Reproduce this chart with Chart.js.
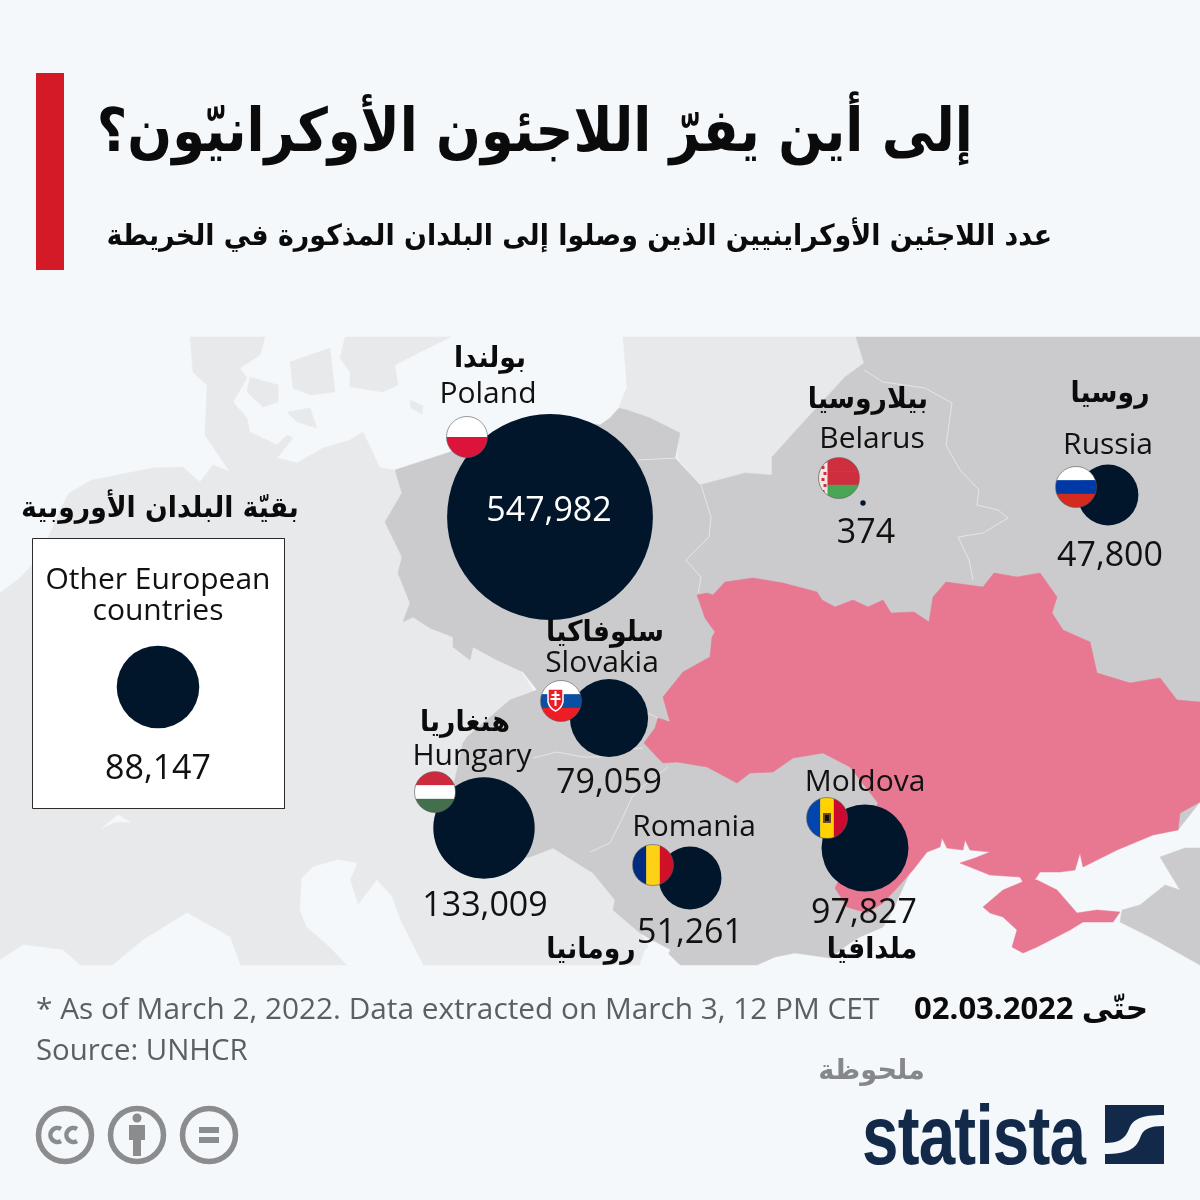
<!DOCTYPE html>
<html lang="ar">
<head>
<meta charset="utf-8">
<title>Ukraine refugees</title>
<script src="https://cdn.jsdelivr.net/npm/chart.js@4"></script>
<style>
    html, body { margin: 0; padding: 0; background: #f4f8fb; }
    #wrap { position: relative; width: 1200px; height: 1200px; overflow: hidden; }
    #chart { position: absolute; left: 0; top: 0; }
    .txt { position: absolute; white-space: nowrap; line-height: 1; }
    .ar { font-family: "DejaVu Sans", sans-serif; font-weight: 700; direction: rtl; color: #0b0b0b; transform-origin: 100% 0; }
    .en { font-family: "Open Sans", sans-serif; color: #5a5f64; font-size: 29.8px; }
    #bar { position: absolute; left: 36px; top: 73px; width: 28px; height: 197px; background: #d31a26; }
</style>
</head>
<body>
<div id="wrap">
    <canvas id="chart" width="1200" height="1200"></canvas>
    <div id="bar"></div>
    <div class="txt ar" style="right:227px;top:100px;font-size:60px;transform:scaleX(0.877);">إلى أين يفرّ اللاجئون الأوكرانيّون؟</div>
    <div class="txt ar" style="right:148px;top:221px;font-size:29px;transform:scaleX(0.927);">عدد اللاجئين الأوكراينيين الذين وصلوا إلى البلدان المذكورة في الخريطة</div>
    <div class="txt en" style="left:36px;top:993px;">* As of March 2, 2022. Data extracted on March 3, 12 PM CET</div>
    <div class="txt en" style="left:36px;top:1035px;font-size:29.4px;">Source: UNHCR</div>
    <div class="txt ar" style="right:52px;top:992px;font-size:31px;font-family:'Open Sans','DejaVu Sans',sans-serif;">حتّى 02.03.2022</div>
    <div class="txt ar" style="right:275px;top:1056px;font-size:28px;transform:scaleX(0.97);color:#85878a;">ملحوظة</div>
    <div class="txt" style="left:862px;top:1093px;font-family:'Liberation Sans',sans-serif;font-weight:700;font-size:84px;color:#12294a;transform-origin:0 0;transform:scaleX(0.78);letter-spacing:-1px;">statista</div>
    <svg style="position:absolute;left:1105px;top:1105px" width="59" height="59" viewBox="0 0 59 59">
        <rect width="59" height="59" fill="#12294a"/>
        <path d="M0 38 C14 38 20 34 24 24 C28 14 36 10 59 10 L59 21 C44 21 38 24 35 33 C31 44 22 49 0 49 Z" fill="#f4f8fb"/>
    </svg>
    <svg style="position:absolute;left:34px;top:1104px" width="210" height="62" viewBox="0 0 210 62" fill="none">
        <g stroke="#8a8c8e" stroke-width="5.5">
            <circle cx="31" cy="31" r="26.5"/><circle cx="103" cy="31" r="26.5"/><circle cx="175" cy="31" r="26.5"/>
        </g>
        <g stroke="#8a8c8e" stroke-width="4.5">
            <path d="M27 25 a7 7 0 1 0 0 12"/><path d="M43 25 a7 7 0 1 0 0 12"/>
        </g>
        <g fill="#8a8c8e">
            <circle cx="103" cy="14" r="4.5"/><path d="M95 21 h16 v15 h-4 v16 h-8 v-16 h-4 z"/>
            <rect x="165" y="23" width="20" height="6"/><rect x="165" y="33" width="20" height="6"/>
        </g>
    </svg>
</div>
<script>
const countries = ['Poland', 'Slovakia', 'Hungary', 'Romania', 'Moldova', 'Belarus', 'Russia', 'Other European'];
const countriesAr = ['بولندا', 'سلوفاكيا', 'هنغاريا', 'رومانيا', 'ملدافيا', 'بيلاروسيا', 'روسيا', 'بقيّة البلدان الأوروبية'];
const refugees = [547982, 79059, 133009, 51261, 97827, 374, 47800, 88147];

// where each country sits on the map, same 0-1200 units as the axes
const bubbleX = [550, 609, 484, 690, 865, 863, 1108, 158];
const bubbleY = [517, 718, 828, 878, 848, 503, 495, 687];
const flagX = [467, 561, 435, 653, 827, 839, 1076];
const flagY = [437, 701, 792, 865, 818, 478, 487];
const nameX = [488, 602, 472, 694, 865, 872, 1108, 158];
const nameY = [394, 663, 756, 827, 782, 439, 445, 580];
const nameArX = [490, 605, 465, 591, 872, 868, 1110, 160];
const nameArY = [359, 633, 723, 950, 950, 400, 394, 509];
const valueX = [549, 609, 485, 690, 864, 866, 1110, 158];
const valueY = [511, 783, 906, 933, 913, 533, 556, 769];

const flagStripes = [
    ['#ffffff', '#dc143c'],
    ['#ffffff', '#0b4ea2', '#ee1c25'],
    ['#cd2a3e', '#ffffff', '#436f4d'],
    ['#002b7f', '#fcd116', '#ce1126'],
    ['#0046ae', '#ffd200', '#cc092f'],
    ['#cf2e3e', '#cf2e3e', '#4aa657'],
    ['#ffffff', '#0039a6', '#d52b1e']
];
const flagVertical = [false, false, false, true, true, false, false];

const landBase = [[0,593],[20,578],[32,565],[45,545],[60,510],[69,493],[92,480],[153,468],[183,467],[200,482],[213,465],[230,472],[205,435],[207,385],[193,372],[190,337],[265,337],[260,355],[240,368],[247,378],[233,402],[247,418],[250,432],[277,445],[287,435],[293,438],[277,458],[297,463],[323,448],[350,440],[363,432],[380,468],[395,470],[420,520],[540,700],[620,900],[660,965],[0,965]];
const sweden = [[345,337],[451,337],[420,352],[395,365],[398,385],[383,392],[350,387],[350,372],[340,358]];
const zealand = [[290,362],[330,348],[335,392],[310,395],[293,388]];
const fyn = [[250,377],[278,385],[278,402],[263,407],[247,392]];
const lolland = [[287,412],[310,408],[317,428],[297,422]];
const gotland = [[410,400],[423,406],[422,414],[411,408]];
const baltics = [[623,337],[856,337],[864,363],[845,377],[799,427],[772,457],[772,475],[745,473],[700,485],[677,458],[680,433],[627,410],[619,407],[627,387]];
const neighbours = [[395,470],[447,453],[520,425],[570,420],[600,425],[610,418],[619,408],[627,410],[650,418],[680,433],[675,458],[700,485],[745,473],[772,475],[772,457],[799,427],[845,377],[864,363],[856,337],[1200,337],[1200,802],[1178,830],[1000,790],[920,850],[893,910],[883,927],[860,937],[850,943],[830,958],[795,953],[775,957],[757,965],[680,965],[670,955],[657,943],[640,933],[613,910],[615,900],[593,873],[577,863],[553,848],[530,857],[500,860],[450,800],[457,770],[463,743],[467,737],[510,700],[537,690],[523,672],[497,660],[473,647],[470,660],[453,647],[453,637],[430,628],[413,617],[403,622],[410,603],[398,573],[402,557],[385,522],[402,493]];
const kuban = [[1160,857],[1185,848],[1200,848],[1200,965],[1150,937],[1120,922],[1122,910],[1140,905],[1165,885],[1180,890]];
const ukraine = [[644,743],[655,728],[658,718],[670,722],[663,697],[683,672],[710,657],[712,637],[715,632],[705,618],[697,595],[707,593],[713,595],[725,582],[753,578],[783,583],[817,592],[822,600],[835,607],[853,600],[868,607],[883,600],[891,613],[914,612],[929,622],[933,597],[946,582],[983,587],[994,573],[1017,577],[1040,573],[1057,597],[1052,613],[1063,630],[1090,642],[1097,673],[1130,683],[1160,678],[1177,700],[1200,702],[1200,802],[1180,813],[1178,830],[1153,835],[1117,850],[1083,867],[1080,853],[1075,870],[1060,872],[1040,872],[1032,884],[1024,884],[1020,877],[990,875],[960,863],[975,858],[990,852],[970,850],[965,840],[963,850],[947,848],[942,838],[940,847],[927,852],[913,870],[897,888],[883,903],[867,913],[847,907],[835,888],[878,803],[850,767],[823,753],[793,758],[773,772],[750,773],[737,783],[707,767],[677,762],[663,763],[657,757]];
const crimea = [[983,907],[1003,890],[1027,880],[1037,880],[1057,890],[1077,913],[1097,910],[1120,912],[1113,922],[1083,922],[1070,930],[1037,947],[1023,953],[1012,947],[1017,930],[1003,917],[990,913]];
const adriatic = [[302,878],[313,867],[338,860],[357,863],[350,880],[358,905],[377,880],[392,897],[400,920],[423,965],[347,965],[330,947],[307,927],[300,910]];
const ligurian = [[113,965],[143,940],[187,913],[230,937],[240,965]];
const lyon = [[0,960],[23,945],[63,950],[80,965],[0,965]];
const lake = [[102,828],[118,815],[130,822],[115,822]];
const varnaBay = [[640,965],[645,950],[655,942],[670,950],[665,960],[680,965]];
const borderBelarusWest = [[701,485],[711,517],[709,537],[686,560],[701,577],[698,593]];
const borderBelarusEast = [[864,370],[883,382],[925,388],[952,403],[946,445],[960,470],[979,490],[977,505],[998,510],[1008,518],[983,533],[958,537],[969,560],[973,580]];
const borderKaliningrad = [[638,460],[677,458]];
const borderSlovakHungary = [[533,758],[557,752],[583,757],[600,757],[617,750],[643,748]];
const borderSlovakUkraine = [[658,718],[648,713]];
const borderHungaryRomania = [[668,767],[647,783],[632,797],[623,817],[610,843],[590,852]];
const otherBox = [[32.5,538.5],[284.5,538.5],[284.5,808.5],[32.5,808.5]];

const landLight = '#e8e9eb';
const landMid = '#cbcbcd';
const sea = '#f4f8fb';
const pink = '#e87791';
const navy = '#01152b';
const bubbleScale = 0.139;

function toPoints(poly) {
    return poly.concat([poly[0]]).map(p => ({ x: p[0], y: p[1] }));
}

function area(poly, color, order) {
    return {
        type: 'line', data: toPoints(poly), backgroundColor: color, borderColor: color, borderWidth: 0.5,
        fill: 'shape', pointRadius: 0, tension: 0, order: order
    };
}

function border(line) {
    return {
        type: 'line', data: line.map(p => ({ x: p[0], y: p[1] })), borderColor: '#e4e6e8', borderWidth: 1,
        fill: false, pointRadius: 0, tension: 0, order: 40
    };
}

const mapDatasets = [
    area(landBase, landLight, 100),
    area(sweden, landLight, 100), area(zealand, landLight, 100), area(fyn, landLight, 100),
    area(lolland, landLight, 100), area(gotland, landLight, 100), area(baltics, landLight, 100),
    area(adriatic, sea, 95), area(ligurian, sea, 95), area(lyon, sea, 95), area(lake, sea, 95),
    area(neighbours, landMid, 90), area(kuban, landMid, 90), area(varnaBay, sea, 85),
    area(ukraine, pink, 50), area(crimea, pink, 50),
    border(borderBelarusWest), border(borderBelarusEast), border(borderKaliningrad),
    border(borderSlovakHungary), border(borderSlovakUkraine), border(borderHungaryRomania)
];

const boxDataset = area(otherBox, '#ffffff', 30);
boxDataset.borderColor = '#2b2b2b';
boxDataset.borderWidth = 1;

const bubbles = {
    type: 'bubble',
    data: refugees.map((v, i) => ({ x: bubbleX[i], y: bubbleY[i], r: Math.sqrt(v) * bubbleScale })),
    backgroundColor: navy,
    borderWidth: 0,
    clip: false,
    order: 10
};

function drawFlag(ctx, index, x, y) {
    const r = 20.5;
    const colors = flagStripes[index];
    ctx.save();
    ctx.beginPath();
    ctx.arc(x, y, r, 0, Math.PI * 2);
    ctx.clip();
    colors.forEach((c, k) => {
        ctx.fillStyle = c;
        const step = 2 * r / colors.length;
        if (flagVertical[index]) ctx.fillRect(x - r + k * step, y - r, step + 0.5, 2 * r);
        else ctx.fillRect(x - r, y - r + k * step, 2 * r, step + 0.5);
    });
    if (countries[index] === 'Slovakia') {
        ctx.fillStyle = '#ee1c25';
        ctx.strokeStyle = '#fff';
        ctx.lineWidth = 1.5;
        ctx.beginPath();
        ctx.moveTo(x - 13, y - 12);
        ctx.lineTo(x + 2, y - 12);
        ctx.lineTo(x + 2, y + 1);
        ctx.quadraticCurveTo(x, y + 8, x - 5.5, y + 10);
        ctx.quadraticCurveTo(x - 11, y + 8, x - 13, y + 1);
        ctx.closePath();
        ctx.fill();
        ctx.stroke();
        ctx.fillStyle = '#fff';
        ctx.fillRect(x - 6.5, y - 10, 2, 15);
        ctx.fillRect(x - 9.5, y - 7, 8, 2);
        ctx.fillRect(x - 10.5, y - 3, 10, 2);
    }
    if (countries[index] === 'Moldova') {
        ctx.fillStyle = '#6b4a1c';
        ctx.fillRect(x - 4, y - 5, 8, 10);
        ctx.fillStyle = '#111';
        ctx.fillRect(x - 2, y - 3, 4, 6);
    }
    if (countries[index] === 'Belarus') {
        ctx.fillStyle = '#f3e6e6';
        ctx.fillRect(x - r, y - r, 9, 2 * r);
        ctx.fillStyle = '#cf2e3e';
        for (let k = -18; k < 18; k += 6) ctx.fillRect(x - r + 3 + (k % 4 ? 2 : 0), y + k, 3, 3);
    }
    ctx.restore();
    ctx.beginPath();
    ctx.arc(x, y, r, 0, Math.PI * 2);
    ctx.strokeStyle = 'rgba(90,90,90,0.6)';
    ctx.lineWidth = 1;
    ctx.stroke();
}

const mapLabels = {
    id: 'mapLabels',
    afterDatasetsDraw(chart) {
        const { ctx, scales } = chart;
        const px = v => scales.x.getPixelForValue(v);
        const py = v => scales.y.getPixelForValue(v);
        flagX.forEach((x, i) => drawFlag(ctx, i, px(x), py(flagY[i])));

        ctx.save();
        ctx.textAlign = 'center';
        ctx.textBaseline = 'middle';
        countries.forEach((name, i) => {
            ctx.fillStyle = '#111';
            ctx.font = '30px "Open Sans"';
            ctx.fillText(name, px(nameX[i]), py(nameY[i]));
            if (i === 7) ctx.fillText('countries', px(nameX[i]), py(nameY[i] + 31));

            // arabic labels are narrower and taller in the original than DejaVu gives
            ctx.save();
            ctx.translate(px(nameArX[i]), py(nameArY[i]));
            ctx.scale(0.92, 1);
            ctx.font = '700 29px "DejaVu Sans"';
            ctx.direction = 'rtl';
            ctx.fillStyle = '#0b0b0b';
            ctx.fillText(countriesAr[i], 0, 0);
            ctx.restore();

            ctx.font = '34px "Open Sans"';
            ctx.fillStyle = i === 0 ? '#ffffff' : '#111';
            ctx.fillText(refugees[i].toLocaleString('en-US'), px(valueX[i]), py(valueY[i]));
        });
        ctx.restore();
    }
};

new Chart(document.getElementById('chart'), {
    data: { datasets: [...mapDatasets, boxDataset, bubbles] },
    options: {
        responsive: false,
        animation: false,
        devicePixelRatio: 1,
        layout: { padding: 0, autoPadding: false },
        scales: {
            x: { type: 'linear', min: 0, max: 1200, display: false },
            y: { type: 'linear', min: 0, max: 1200, reverse: true, display: false }
        },
        plugins: { legend: { display: false }, tooltip: { enabled: false } }
    },
    plugins: [mapLabels]
});
</script>
</body>
</html>
